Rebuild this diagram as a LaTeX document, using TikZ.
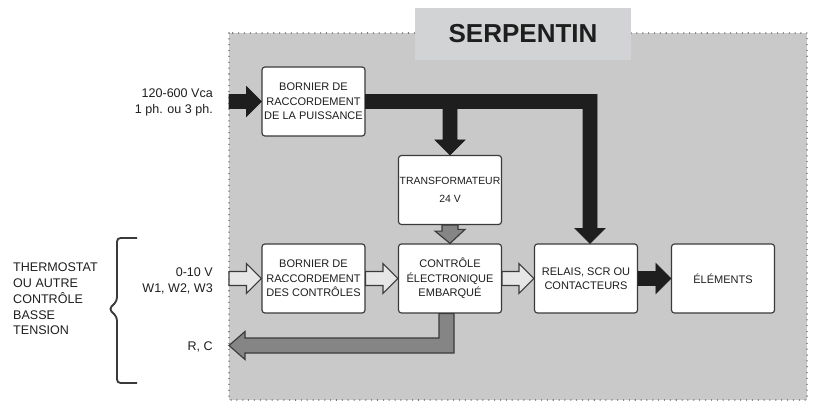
\documentclass[tikz,border=0pt]{standalone}
\usepackage{fontspec}
\setmainfont{Liberation Sans}
\usetikzlibrary{calc}

\definecolor{zone}{HTML}{C9C9C9}
\definecolor{tab}{HTML}{D2D3D5}
\definecolor{edge}{HTML}{3A3A3A}
\definecolor{ink}{HTML}{1E1E1E}
\definecolor{pale}{HTML}{E6E6E6}
\definecolor{mid}{HTML}{858585}

% straight block arrow: style, from anchor, to anchor
\newcommand{\hflow}[3]{\draw[#1] ($(#2)+(0,-7)$) -- ($(#3)+(-15,-7)$) -- ($(#3)+(-15,-15)$) -- (#3) -- ($(#3)+(-15,15)$) -- ($(#3)+(-15,7)$) -- ($(#2)+(0,7)$) -- cycle;}

\begin{document}
\begin{tikzpicture}[x=0.03cm, y=-0.03cm,
  box/.style={draw=edge, fill=white, line width=1pt, rounded corners=2.5, minimum width=3.09cm, minimum height=2.07cm, inner sep=0, align=center, text=ink, font=\fontsize{9.4}{12.5}\selectfont},
  lbl/.style={inner sep=0, text=ink, font=\fontsize{10.7}{13.6}\selectfont},
  power/.style={draw=ink, fill=ink, line width=0.6pt, line join=miter},
  hollow/.style={draw=edge, fill=pale, line width=1pt, line join=miter},
  grey/.style={draw=edge, fill=mid, line width=1pt, line join=miter}]
\useasboundingbox (0,0) rectangle (815,402);
% Serpentin zone
\fill[zone] (229,33) rectangle (807,400);
\draw[edge!80, line width=1.3pt, dash pattern=on 0pt off 5pt, line cap=round] (229,33) rectangle (807,400);
\node[fill=tab, minimum width=6.48cm, minimum height=1.56cm, inner sep=0] (tb) at (523,34) {};
\node[text=ink, font=\fontsize{22.2}{24}\selectfont\bfseries] (st) at (tb) {SERPENTIN};

\node[box] (b1) at (313.5,101.5) {BORNIER DE\\RACCORDEMENT\\DE LA PUISSANCE};
\node[box, font=\fontsize{8.9}{15}\selectfont] (t1) at (450,190) {TRANSFORMATEUR\\24 V};
\node[box] (b2) at (313.5,278.5) {BORNIER DE\\RACCORDEMENT\\DES CONTRÔLES};
\node[box] (c1) at (450,278.5) {CONTRÔLE\\ÉLECTRONIQUE\\EMBARQUÉ};
\node[box, font=\fontsize{9.4}{11.5}\selectfont] (r1) at (586,278.5) {RELAIS, SCR OU\\CONTACTEURS};
\node[box] (e1) at (723,278.5) {ÉLÉMENTS};

\node[lbl, anchor=east, align=right] (vin) at (213,102.5) {120-600 Vca\\1 ph. ou 3 ph.};
\node[lbl, anchor=east, align=right] (sig) at (213,280.5) {0-10 V\\W1, W2, W3};
\node[lbl, anchor=east] (rcl) at (213,347) {R, C};
\node[lbl, anchor=west, align=left, font=\fontsize{10.7}{13.5}\selectfont] (th) at (13,299) {THERMOSTAT\\OU AUTRE\\CONTRÔLE\\BASSE\\TENSION};
\draw[edge, line width=1.6pt, rounded corners=3] (137,238) -- (117,238) -- (117,301) -- (109,309) -- (117,317) -- (117,383) -- (137,383);

\coordinate (pin) at (229,101.5);
\coordinate (sin) at (229,278.5);
\coordinate (rc) at (229,345.5);
\coordinate (rt) at ($(r1.north)+(4,0)$);

% Power:
\hflow{power}{pin}{b1.west}
\draw[power] ($(b1.east)+(0,-7)$) -| ($(rt)+(7,-15)$) -- ++(8,0) -- (rt) -- ++(-15,-15) -- ++(8,0) |- ($(t1.north)+(7,-46.5)$) -- ++(0,31.5) -- ++(8,0) -- (t1.north) -- ++(-15,-15) -- ++(8,0) |- ($(b1.east)+(0,7)$) -- cycle;
\hflow{power}{r1.east}{e1.west}
% Controls:
\hflow{hollow}{sin}{b2.west}
\hflow{hollow}{b2.east}{c1.west}
\hflow{hollow}{c1.east}{r1.west}
\draw[grey] ($(t1.south)+(-8,0)$) -- ++(0,6) -- ++(-7,0) -- (c1.north) -- ++(15,-14) -- ++(-7,0) -- ($(t1.south)+(8,0)$) -- cycle;
\draw[grey] ($(c1.south)+(4,0)$) |- ($(rc)+(16,7.5)$) -- ++(0,6.5) -- (rc) -- ++(16,-14) -- ++(0,6.5) -| ($(c1.south)+(-11,0)$) -- cycle;
\end{tikzpicture}
\end{document}
